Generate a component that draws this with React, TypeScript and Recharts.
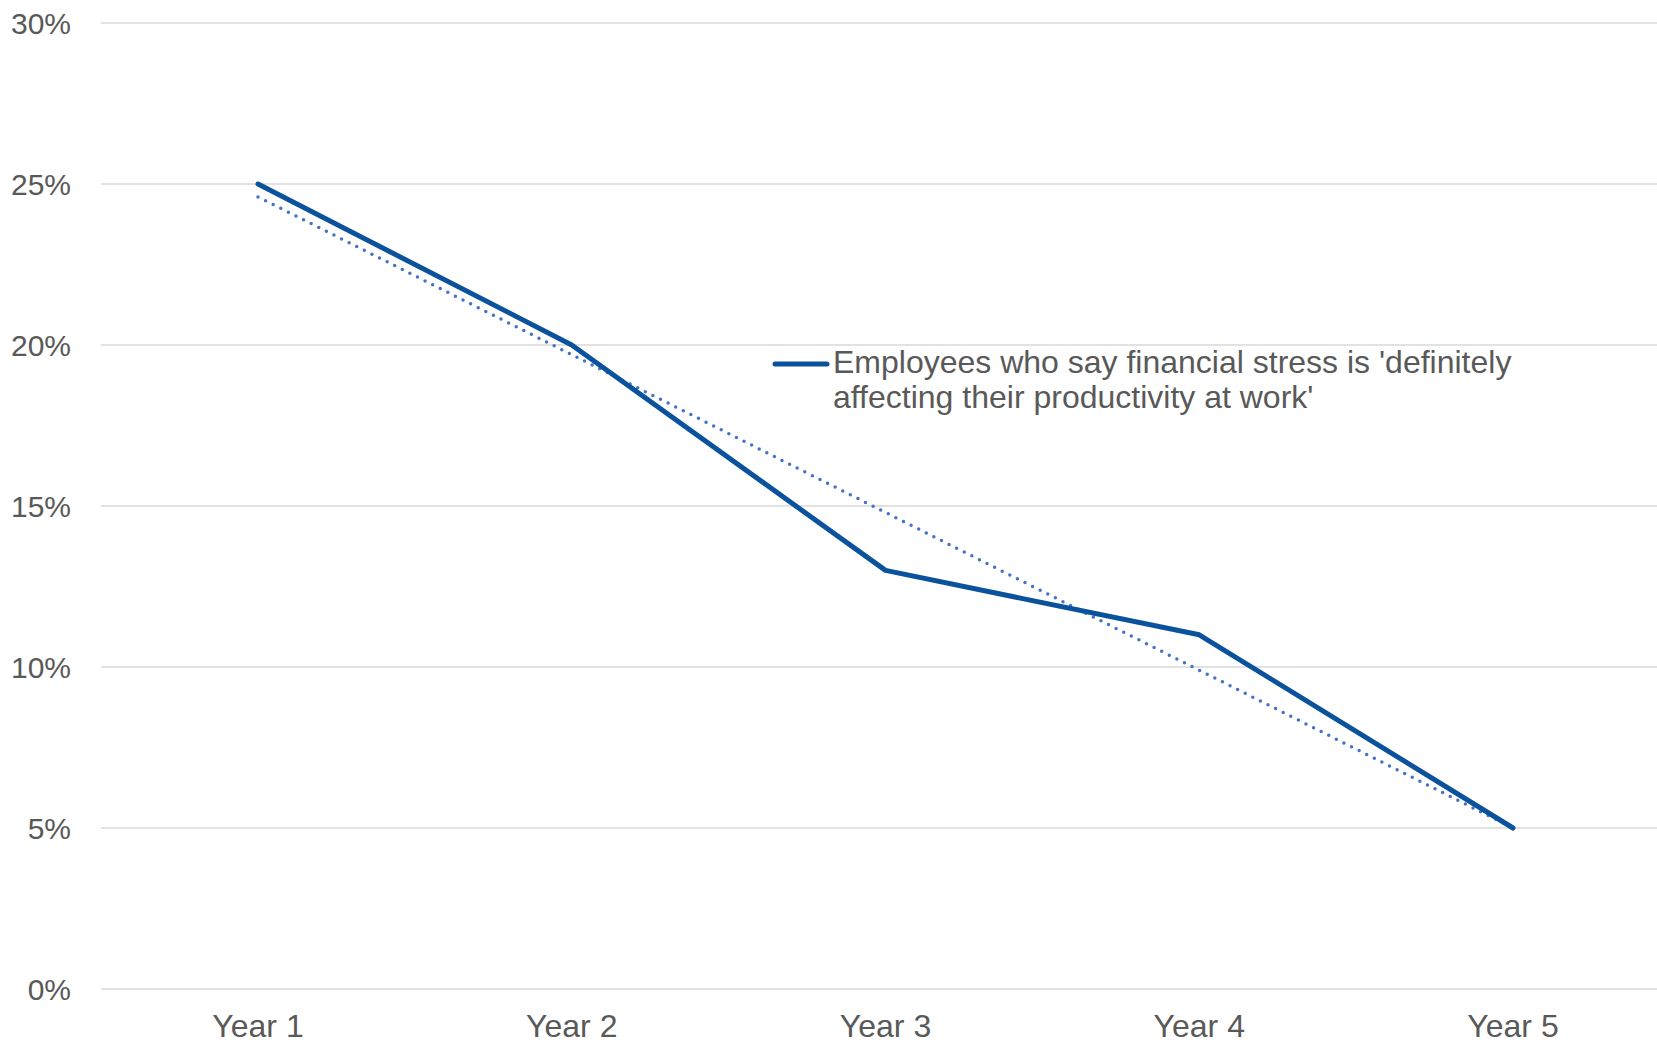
import { LineChart, Line, XAxis, YAxis, CartesianGrid } from "recharts";

const years = ["Year 1", "Year 2", "Year 3", "Year 4", "Year 5"];
const stressShare = [25, 20, 13, 11, 5];
const trendShare = [24.6, 19.7, 14.8, 9.9, 5.0];
const yTicks = [0, 5, 10, 15, 20, 25, 30];

const SERIES_NAME =
  "Employees who say financial stress is 'definitely affecting their productivity at work'";

const FONT = "'Liberation Sans', Arial, sans-serif";
const TEXT = "#595959";
const LINE = "#0B529C";
const TREND = "#4472C4";

const data = years.map((name, i) => ({
  name,
  value: stressShare[i],
  trend: trendShare[i],
}));

// legend sits inside the plot area, so it is laid over the chart instead of taking space from it
function LegendBox() {
  return (
    <>
      <svg width={60} height={20} style={{ position: "absolute", left: 770, top: 354 }}>
        <line x1={5} y1={10} x2={57} y2={10} stroke={LINE} strokeWidth={5} strokeLinecap="round" />
      </svg>
      <div
        style={{
          position: "absolute",
          left: 833,
          top: 345,
          width: 720,
          fontFamily: FONT,
          fontSize: 32,
          lineHeight: "35px",
          color: TEXT,
        }}
      >
        {SERIES_NAME}
      </div>
    </>
  );
}

export default function App() {
  return (
    <div
      style={{
        position: "relative",
        width: 1657,
        height: 1045,
        overflow: "hidden",
        background: "#fff",
      }}
    >
      <style>{`html, body { margin: 0; padding: 0; overflow: hidden; }`}</style>
      <LineChart width={1670} height={1045} data={data} margin={{ top: 23, right: 0, bottom: 0, left: 0 }}>
        <CartesianGrid vertical={false} stroke="#D9D9D9" strokeWidth={1.5} />
        <XAxis
          dataKey="name"
          axisLine={false}
          tickLine={false}
          tickSize={0}
          tickMargin={25}
          height={56}
          padding={{ left: 157, right: 157 }}
          tick={{ fontSize: 32, fill: TEXT, fontFamily: FONT }}
        />
        <YAxis
          domain={[0, 30]}
          ticks={yTicks}
          axisLine={false}
          tickLine={false}
          tickSize={0}
          tickMargin={30}
          width={101}
          tickFormatter={(v) => `${v}%`}
          tick={{ fontSize: 30, fill: TEXT, fontFamily: FONT }}
        />
        <Line
          dataKey="trend"
          stroke={TREND}
          strokeWidth={3.5}
          strokeDasharray="0 8.5"
          strokeLinecap="round"
          dot={false}
          activeDot={false}
          legendType="none"
          isAnimationActive={false}
        />
        <Line
          dataKey="value"
          name={SERIES_NAME}
          stroke={LINE}
          strokeWidth={5}
          strokeLinecap="round"
          strokeLinejoin="round"
          dot={false}
          activeDot={false}
          isAnimationActive={false}
        />
      </LineChart>
      <LegendBox />
    </div>
  );
}
